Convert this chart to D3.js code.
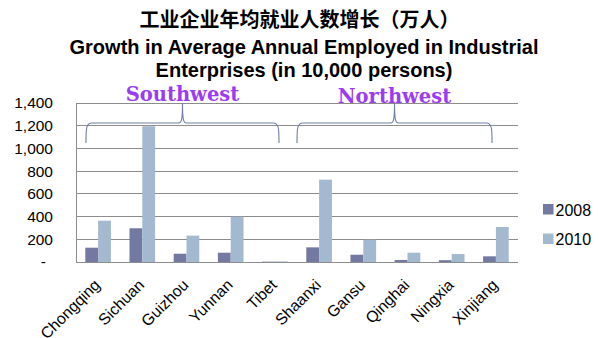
<!DOCTYPE html>
<html>
<head>
<meta charset="utf-8">
<script src="https://cdn.jsdelivr.net/npm/d3@7"></script>
<style>
  html, body { margin: 0; padding: 0; background: #fff; }
  svg { display: block; }
</style>
</head>
<body>
<script>
// Provinces and annual employed counts (10,000 persons)
const categories = ["Chongqing", "Sichuan", "Guizhou", "Yunnan", "Tibet",
                    "Shaanxi", "Gansu", "Qinghai", "Ningxia", "Xinjiang"];
const seriesNames = ["2008", "2010"];
const values2008 = [126, 297, 73, 82, 3, 129, 64, 18, 16, 50];
const values2010 = [364, 1195, 232, 399, 5, 725, 196, 82, 70, 308];
const yTicks = [0, 200, 400, 600, 800, 1000, 1200, 1400];
const yTickLabels = ["-", "200", "400", "600", "800", "1,000", "1,200", "1,400"];
const regions = [
  { name: "Southwest", first: "Chongqing", last: "Tibet" },
  { name: "Northwest", first: "Shaanxi", last: "Xinjiang" }
];
const titleZh = "工业企业年均就业人数增长（万人）";
const titleEn = ["Growth in Average Annual Employed in Industrial",
                 "Enterprises (in 10,000 persons)"];

const W = 599, H = 338;
const colors = { "2008": "#7379a1", "2010": "#a3b9cf" };
const plot = { left: 76, right: 518, top: 103, bottom: 262 };

const svg = d3.select("body").append("svg")
  .attr("width", W).attr("height", H);
svg.append("rect").attr("width", W).attr("height", H).attr("fill", "#fff");

const x0 = d3.scaleBand().domain(categories)
  .range([plot.left, plot.right]).paddingInner(0.42).paddingOuter(0.21);
const x1 = d3.scaleBand().domain(seriesNames).range([0, x0.bandwidth()]);
const y = d3.scaleLinear().domain([0, 1400]).range([plot.bottom, plot.top]);

// Titles
svg.append("text").attr("x", 299.5).attr("y", 27)
  .attr("text-anchor", "middle")
  .attr("font-family", "'Noto Sans CJK SC', sans-serif")
  .attr("font-size", 20).attr("font-weight", 700)
  .attr("fill", "#000").text(titleZh);
titleEn.forEach((t, i) => {
  svg.append("text").attr("x", 304).attr("y", 53.5 + i * 23.5)
    .attr("text-anchor", "middle")
    .attr("font-family", "'Liberation Sans', Arial, sans-serif")
    .attr("font-size", 20).attr("font-weight", "bold")
    .attr("fill", "#000").text(t);
});

// Gridlines
const gy = svg.append("g");
gy.selectAll("line").data(yTicks).join("line")
  .attr("x1", plot.left).attr("x2", plot.right)
  .attr("y1", d => y(d)).attr("y2", d => y(d))
  .attr("stroke", "#8c8c8c").attr("stroke-width", 1)
  .attr("shape-rendering", "crispEdges");

// Y axis
const yAxis = d3.axisLeft(y).tickValues(yTicks)
  .tickFormat((d, i) => yTickLabels[i]).tickSize(0).tickPadding(23);
const ya = svg.append("g").attr("transform", `translate(${plot.left},0)`).call(yAxis);
ya.select(".domain").attr("stroke", "#8c8c8c").attr("shape-rendering", "crispEdges");
ya.selectAll("text")
  .attr("font-family", "'Liberation Sans', Arial, sans-serif")
  .attr("font-size", 15.5).attr("fill", "#000")
  .attr("dx", (d, i) => i === 0 ? -7 : 0);

// Bars
const rows = categories.map((c, i) => ({ cat: c, vals: [values2008[i], values2010[i]] }));
const groups = svg.append("g").selectAll("g").data(rows).join("g")
  .attr("transform", d => `translate(${x0(d.cat)},0)`);
groups.selectAll("rect")
  .data(d => d.vals.map((v, j) => ({ key: seriesNames[j], v })))
  .join("rect")
  .attr("x", d => x1(d.key))
  .attr("width", x1.bandwidth())
  .attr("y", d => y(d.v))
  .attr("height", d => y(0) - y(d.v))
  .attr("fill", d => colors[d.key]);

// Bottom axis line
svg.append("line")
  .attr("x1", plot.left).attr("x2", plot.right)
  .attr("y1", y(0)).attr("y2", y(0))
  .attr("stroke", "#8c8c8c").attr("shape-rendering", "crispEdges");

// Rotated category labels
const step = x0.step();
svg.append("g").selectAll("text").data(categories).join("text")
  .attr("transform", d => {
    const cx = x0(d) + x0.bandwidth() / 2;
    return `translate(${cx - 1},282) rotate(-45)`;
  })
  .attr("text-anchor", "end")
  .attr("dy", "0.35em")
  .attr("font-family", "'Liberation Sans', Arial, sans-serif")
  .attr("font-size", 15.8).attr("fill", "#000")
  .text(d => d);

// Region braces with labels
const bw = x0.bandwidth();
regions.forEach((r, i) => {
  const xa = i === 0 ? x0(r.first) + 0.7 : x0(r.first) - x0.paddingOuter() * step;
  const xb = i === 0 ? x0(r.last) + bw * 0.66 : x0(r.last) + bw * 0.35;
  const xm = (xa + xb) / 2;
  const yTip = y(1400), yMid = 123, yEnd = 143;
  const p = d3.path();
  p.moveTo(xa, yEnd);
  p.bezierCurveTo(xa, yMid + 6, xa, yMid, xa + 6, yMid);
  p.lineTo(xm - 4, yMid);
  p.bezierCurveTo(xm - 1, yMid, xm, yMid - 3, xm, yTip);
  p.bezierCurveTo(xm, yMid - 3, xm + 1, yMid, xm + 4, yMid);
  p.lineTo(xb - 6, yMid);
  p.bezierCurveTo(xb, yMid, xb, yMid + 6, xb, yEnd);
  svg.append("path").attr("d", p.toString())
    .attr("fill", "none").attr("stroke", "#6e7ea6").attr("stroke-width", 1.1);
  svg.append("text").attr("x", xm).attr("y", i === 0 ? 100.5 : 103)
    .attr("text-anchor", "middle")
    .attr("font-family", "'DejaVu Serif', serif")
    .attr("font-size", 19.5).attr("font-weight", "bold")
    .attr("fill", "#9b3cf5").text(r.name);
});

// Legend
const legend = svg.append("g").selectAll("g").data(seriesNames).join("g")
  .attr("transform", (d, i) => `translate(543,${204 + i * 29.5})`);
legend.append("rect").attr("width", 10.5).attr("height", 10.5)
  .attr("fill", d => colors[d]);
legend.append("text").attr("x", 12.5).attr("y", 11.5)
  .attr("font-family", "'Liberation Sans', Arial, sans-serif")
  .attr("font-size", 16).attr("fill", "#000").text(d => d);
</script>
</body>
</html>
